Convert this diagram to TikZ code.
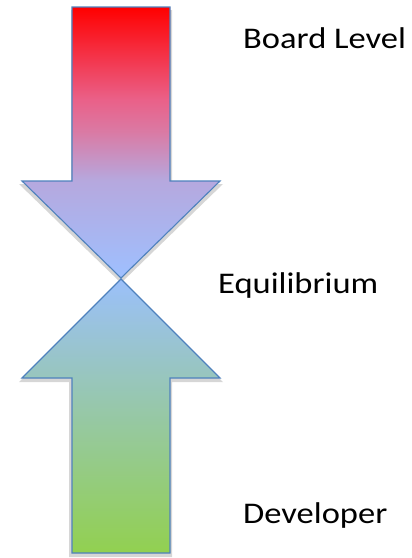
\documentclass[tikz,border=0pt]{standalone}
\usepackage{fontspec}
\usepackage{tikz}
\usepackage{xcolor}
\newfontfamily\lblfont[FakeStretch=1.15]{Carlito}
\definecolor{arrowedge}{RGB}{79,129,189}
\definecolor{toplevel}{RGB}{255,0,0}
\definecolor{toprose}{RGB}{234,96,136}
\definecolor{toppink}{RGB}{218,122,164}
\definecolor{toplav}{RGB}{182,168,222}
\definecolor{equiblue}{RGB}{158,192,255}
\definecolor{midblue}{RGB}{155,192,250}
\definecolor{devgreen}{RGB}{146,208,80}
\pgfdeclareverticalshading{boardshade}{100bp}{color(0bp)=(equiblue); color(25bp)=(equiblue);
  color(43bp)=(toplav); color(52bp)=(toppink); color(58bp)=(toprose); color(75bp)=(toplevel); color(100bp)=(toplevel)}

\begin{document}
\begin{tikzpicture}[x=1pt, y=-1pt,
  shaftarrow/.style={draw=arrowedge, line width=1.1pt, line join=miter},
  shadowarrow/.style={fill=black, opacity=0.16},
  every node/.style={font=\lblfont\fontsize{30}{36}\selectfont, inner sep=0pt, anchor=base west}]
\useasboundingbox (0,0) rectangle (412,558);
% shadows
\fill[shadowarrow] (71,10) -- (172,10) -- (172,184) -- (223,184) -- (121,283) -- (19,184) -- (71,184) -- cycle;
\fill[shadowarrow] (121,283) -- (223,382) -- (172,382) -- (172,557) -- (69,557) -- (69,382) -- (19,382) -- cycle;
% board level arrow, pointing down
\draw[shaftarrow, shading=boardshade]
  (72,7) -- (170,7) -- (170,181) -- (220,181) -- (121,278) -- (22,181) -- (72,181) -- cycle;
% developer arrow, pointing up
\draw[shaftarrow, top color=midblue, bottom color=devgreen]
  (121,279) -- (220,378) -- (170,378) -- (170,553) -- (72,553) -- (72,378) -- (22,378) -- cycle;
\node (board) at (243,48) {Board Level};
\node (equi) at (218,293) {Equilibrium};
\node (dev) at (243,523) {Developer};
\end{tikzpicture}
\end{document}
